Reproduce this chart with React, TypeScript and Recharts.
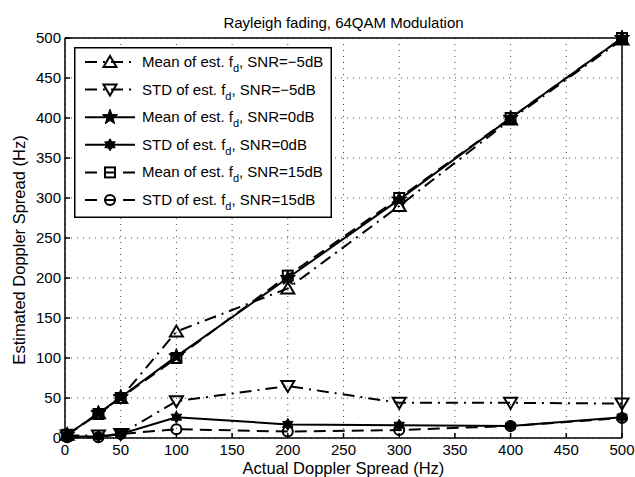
import React from 'react';
import { LineChart, Line, XAxis, YAxis, CartesianGrid, Legend } from 'recharts';

const FONT = '"Liberation Sans", Arial, Helvetica, sans-serif';

// actual doppler spread (Hz)
const dopplerHz = [2, 30, 50, 100, 200, 300, 400, 500];
// estimated doppler spread (Hz)
const meanSnrM5 = [4, 31, 50, 133, 187, 290, 398, 498];
const stdSnrM5 = [3, 3, 5, 46, 65, 44, 44, 43];
const meanSnr0 = [4, 31, 51, 102, 200, 298, 400, 500];
const stdSnr0 = [2, 2, 5, 26, 17, 16, 15, 26];
const meanSnr15 = [4, 30, 50, 100, 203, 300, 400, 500];
const stdSnr15 = [1, 1, 5, 11, 8, 10, 15, 25];

const xTicks = [0, 50, 100, 150, 200, 250, 300, 350, 400, 450, 500];
const yTicks = [0, 50, 100, 150, 200, 250, 300, 350, 400, 450, 500];

const rows = dopplerHz.map((x, i) => ({
  x,
  meanM5: meanSnrM5[i],
  stdM5: stdSnrM5[i],
  mean0: meanSnr0[i],
  std0: stdSnr0[i],
  mean15: meanSnr15[i],
  std15: stdSnr15[i],
}));

type MarkerKind = 'triUp' | 'triDown' | 'star' | 'hexStar' | 'square' | 'circle';

const series: { key: string; stat: string; snr: string; dash?: string; marker: MarkerKind }[] = [
  { key: 'meanM5', stat: 'Mean', snr: 'SNR=−5dB', dash: '12 6 2 6', marker: 'triUp' },
  { key: 'stdM5', stat: 'STD', snr: 'SNR=−5dB', dash: '12 6 2 6', marker: 'triDown' },
  { key: 'mean0', stat: 'Mean', snr: 'SNR=0dB', marker: 'star' },
  { key: 'std0', stat: 'STD', snr: 'SNR=0dB', marker: 'hexStar' },
  { key: 'mean15', stat: 'Mean', snr: 'SNR=15dB', dash: '12 7', marker: 'square' },
  { key: 'std15', stat: 'STD', snr: 'SNR=15dB', dash: '12 7', marker: 'circle' },
];

function starPoints(cx: number, cy: number, n: number, outer: number, inner: number) {
  const pts: string[] = [];
  for (let i = 0; i < n * 2; i++) {
    const r = i % 2 === 0 ? outer : inner;
    const a = -Math.PI / 2 + (i * Math.PI) / n;
    pts.push(`${cx + r * Math.cos(a)},${cy + r * Math.sin(a)}`);
  }
  return pts.join(' ');
}

function Marker({ kind, cx, cy }: { kind: MarkerKind; cx: number; cy: number }) {
  const s = { stroke: '#000', strokeWidth: 2, fill: 'none' };
  switch (kind) {
    case 'triUp':
      return <polygon points={`${cx},${cy - 6} ${cx - 6.5},${cy + 5} ${cx + 6.5},${cy + 5}`} {...s} />;
    case 'triDown':
      return <polygon points={`${cx},${cy + 6} ${cx - 6.5},${cy - 5} ${cx + 6.5},${cy - 5}`} {...s} />;
    case 'star':
      return <polygon points={starPoints(cx, cy, 5, 8, 3.3)} fill="#000" stroke="#000" strokeWidth={1} />;
    case 'hexStar':
      return <polygon points={starPoints(cx, cy, 6, 6, 3.5)} fill="#000" stroke="#000" strokeWidth={1} />;
    case 'square':
      return <rect x={cx - 5} y={cy - 5} width={10} height={10} {...s} />;
    case 'circle':
      return <circle cx={cx} cy={cy} r={5} {...s} />;
  }
  return null;
}

function LegendBox() {
  const rowH = 27.6;
  return (
    <svg width={258} height={171} style={{ display: 'block' }}>
      <rect x={0.75} y={0.75} width={256.5} height={169.5} fill="#fff" stroke="#000" strokeWidth={1.5} />
      {series.map((s, i) => {
        const y = 15 + i * rowH;
        return (
          <g key={s.key}>
            <line x1={11} x2={61} y1={y} y2={y} stroke="#000" strokeWidth={2} strokeDasharray={s.dash} />
            <Marker kind={s.marker} cx={36} cy={y} />
            <text x={68} y={y + 5} fontSize={15} fontFamily={FONT} fill="#000">
              {s.stat} of est. f
              <tspan fontSize={11} dy={5}>d</tspan>
              <tspan dy={-5}>, {s.snr}</tspan>
            </text>
          </g>
        );
      })}
    </svg>
  );
}

const tickStyle = { fill: '#000', fontSize: 15, fontFamily: FONT };

export default function App() {
  return (
    <div style={{ position: 'absolute', left: 0, top: 0, width: 635, height: 477, background: '#fff' }}>
      <LineChart width={635} height={477} data={rows} margin={{ top: 37, right: 12, bottom: 0, left: 0 }}>
        <CartesianGrid stroke="#444" strokeDasharray="1 5" />
        <XAxis
          dataKey="x"
          type="number"
          domain={[0, 500]}
          ticks={xTicks}
          interval={0}
          height={39}
          tickSize={-5}
          tickMargin={11}
          tick={tickStyle}
          stroke="#000"
          strokeWidth={1.5}
          label={{ value: 'Actual Doppler Spread (Hz)', position: 'insideBottom', offset: 3, fill: '#000', fontSize: 16.5, fontFamily: FONT }}
        />
        <XAxis
          xAxisId="top"
          orientation="top"
          type="number"
          domain={[0, 500]}
          ticks={xTicks}
          interval={0}
          height={1}
          tickSize={-5}
          tick={false}
          stroke="#000"
          strokeWidth={1.5}
          label={{ value: 'Rayleigh fading, 64QAM Modulation', position: 'top', offset: 9, fill: '#000', fontSize: 15, fontFamily: FONT }}
        />
        <YAxis
          type="number"
          domain={[0, 500]}
          ticks={yTicks}
          interval={0}
          width={65}
          tickSize={-5}
          tickMargin={9}
          tick={tickStyle}
          stroke="#000"
          strokeWidth={1.5}
          label={{
            content: (p: any) => {
              const vb = p.viewBox;
              return (
                <text
                  transform={`translate(${vb.x + 19},${vb.y + vb.height / 2 + 12}) rotate(-90)`}
                  textAnchor="middle"
                  dominantBaseline="central"
                  fontSize={16.5}
                  fontFamily={FONT}
                  fill="#000"
                >
                  Estimated Doppler Spread (Hz)
                </text>
              );
            },
          }}
        />
        <YAxis
          yAxisId="right"
          orientation="right"
          type="number"
          domain={[0, 500]}
          ticks={yTicks}
          interval={0}
          width={1}
          tickSize={-5}
          tick={false}
          stroke="#000"
          strokeWidth={1.5}
        />
        {series.map((s) => (
          <Line
            key={s.key}
            dataKey={s.key}
            type="linear"
            stroke="#000"
            strokeWidth={2}
            strokeDasharray={s.dash}
            isAnimationActive={false}
            activeDot={false}
            dot={(p: any) => <Marker key={`${s.key}-${p.index}`} kind={s.marker} cx={p.cx} cy={p.cy} />}
          />
        ))}
        <Legend
          layout="vertical"
          align="center"
          verticalAlign="middle"
          wrapperStyle={{ left: 74, top: 47, width: 258, height: 171 }}
          content={() => <LegendBox />}
        />
      </LineChart>
    </div>
  );
}
